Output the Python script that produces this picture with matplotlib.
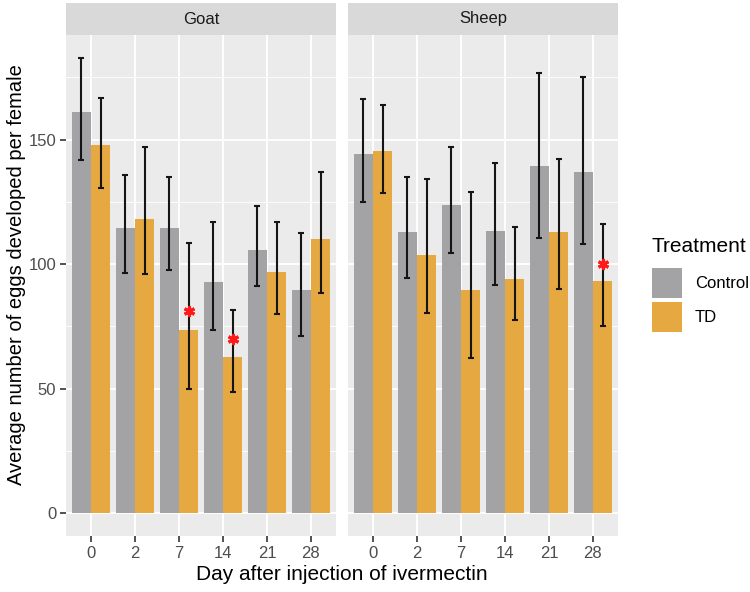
import matplotlib
matplotlib.use("Agg")
import matplotlib.pyplot as plt
from matplotlib.patches import Rectangle
import numpy as np

plt.rcParams['font.family'] = ['Liberation Sans', 'DejaVu Sans']

days = ["0", "2", "7", "14", "21", "28"]
species = ["Goat", "Sheep"]
treatments = ["Control", "TD"]

goat_control = [160.9, 114.3, 114.3, 92.8, 105.6, 89.5]
goat_control_lo = [141.8, 96.5, 97.8, 73.7, 91.1, 71.0]
goat_control_hi = [182.8, 135.7, 134.8, 117.0, 123.5, 112.5]
goat_td = [147.7, 118.3, 73.7, 62.5, 96.9, 109.9]
goat_td_lo = [130.4, 95.9, 50.0, 48.5, 80.1, 88.2]
goat_td_hi = [166.6, 147.1, 108.3, 81.5, 117.0, 137.1]

sheep_control = [144.2, 112.7, 123.8, 113.2, 139.5, 137.1]
sheep_control_lo = [124.9, 94.3, 104.3, 91.8, 110.5, 107.9]
sheep_control_hi = [166.4, 134.8, 146.9, 140.4, 176.6, 175.3]
sheep_td = [145.4, 103.6, 89.5, 94.2, 112.7, 93.1]
sheep_td_lo = [128.6, 80.4, 62.3, 77.5, 89.8, 75.2]
sheep_td_hi = [164.0, 134.0, 129.0, 115.0, 142.2, 115.9]

# significance stars (TD bars): day index, y value
goat_star_idx = [2, 3]
goat_star_y = [81.2, 70.1]
sheep_star_idx = [5]
sheep_star_y = [100.2]

yticks = [0, 50, 100, 150]

data = {
    "Goat": dict(c=goat_control, clo=goat_control_lo, chi=goat_control_hi,
                 t=goat_td, tlo=goat_td_lo, thi=goat_td_hi,
                 si=goat_star_idx, sy=goat_star_y),
    "Sheep": dict(c=sheep_control, clo=sheep_control_lo, chi=sheep_control_hi,
                  t=sheep_td, tlo=sheep_td_lo, thi=sheep_td_hi,
                  si=sheep_star_idx, sy=sheep_star_y),
}

W, H = 750, 592
fig = plt.figure(figsize=(7.5, 5.92), dpi=100)

gray = "#A3A3A6"
orange = "#E6A840"
panel_bg = "#EBEBEB"
strip_bg = "#D9D9D9"

panels = {"Goat": (66, 336), "Sheep": (348, 618)}
ptop, pbot = 35, 536
strip_top = 3

bw = 0.44
x = np.arange(len(days))
ylim = (-9.2, 192.0)

for k, sp in enumerate(species):
    l, r = panels[sp]
    ax = fig.add_axes([l / W, 1 - pbot / H, (r - l) / W, (pbot - ptop) / H])
    d = data[sp]
    ax.set_facecolor(panel_bg)
    for s in ax.spines.values():
        s.set_visible(False)
    ax.set_xlim(-0.57, 5.57)
    ax.set_ylim(*ylim)
    # grid
    for yv in [25, 75, 125, 175]:
        ax.axhline(yv, color="white", lw=0.6, zorder=0.5)
    for yv in yticks:
        ax.axhline(yv, color="white", lw=1.3, zorder=0.6)
    for xv in x:
        ax.axvline(xv, color="white", lw=1.3, zorder=0.6)
    ax.bar(x - bw / 2, d["c"], width=bw, color=gray, zorder=2)
    ax.bar(x + bw / 2, d["t"], width=bw, color=orange, zorder=2)
    c = np.array(d["c"]); t = np.array(d["t"])
    ax.errorbar(x - bw / 2, c, yerr=[c - np.array(d["clo"]), np.array(d["chi"]) - c],
                fmt="none", ecolor="#151515", elinewidth=1.5, capsize=2.2, capthick=1.5, zorder=3)
    ax.errorbar(x + bw / 2, t, yerr=[t - np.array(d["tlo"]), np.array(d["thi"]) - t],
                fmt="none", ecolor="#151515", elinewidth=1.5, capsize=2.2, capthick=1.5, zorder=3)
    ax.plot(np.array(d["si"]) + bw / 2, d["sy"], linestyle="none", marker=(6, 2, 0),
            markersize=8, markeredgewidth=2.2, color="#FF1A1A", zorder=4)
    ax.set_xticks(x)
    ax.set_xticklabels(days)
    ax.tick_params(axis="x", length=4, width=1.2, color="#333333", labelsize=12,
                   labelcolor="#4D4D4D", pad=3)
    ax.set_yticks(yticks)
    if k == 0:
        ax.tick_params(axis="y", length=4, width=1.2, color="#333333", labelsize=12,
                       labelcolor="#4D4D4D", pad=3)
    else:
        ax.tick_params(axis="y", length=0, labelleft=False)
    # strip
    sax = fig.add_axes([l / W, 1 - ptop / H, (r - l) / W, (ptop - strip_top) / H])
    sax.set_facecolor(strip_bg)
    sax.set_xticks([]); sax.set_yticks([])
    for s in sax.spines.values():
        s.set_visible(False)
    sax.text(0.5, 0.5, sp, ha="center", va="center", fontsize=12, color="#1A1A1A",
             transform=sax.transAxes)

fig.text(17 / W, 1 - 275 / H, "Average number of eggs developed per female", rotation=90,
         ha="center", va="center", fontsize=14.5, color="black")
fig.text(342 / W, 1 - 574 / H, "Day after injection of ivermectin",
         ha="center", va="center", fontsize=15, color="black")

# legend
fig.text(652 / W, 1 - 246 / H, "Treatment", ha="left", va="center", fontsize=15, color="black")
lk = [("Control", gray, 268), ("TD", orange, 302)]
for lab, col, ytop in lk:
    fig.patches.append(Rectangle((652 / W, 1 - (ytop + 30) / H), 30 / W, 30 / H,
                                 transform=fig.transFigure, facecolor=col, edgecolor="none"))
    fig.text(695 / W, 1 - (ytop + 15) / H, lab, ha="left", va="center", fontsize=12, color="black")

fig.savefig("out.png", dpi=100, facecolor="white")
